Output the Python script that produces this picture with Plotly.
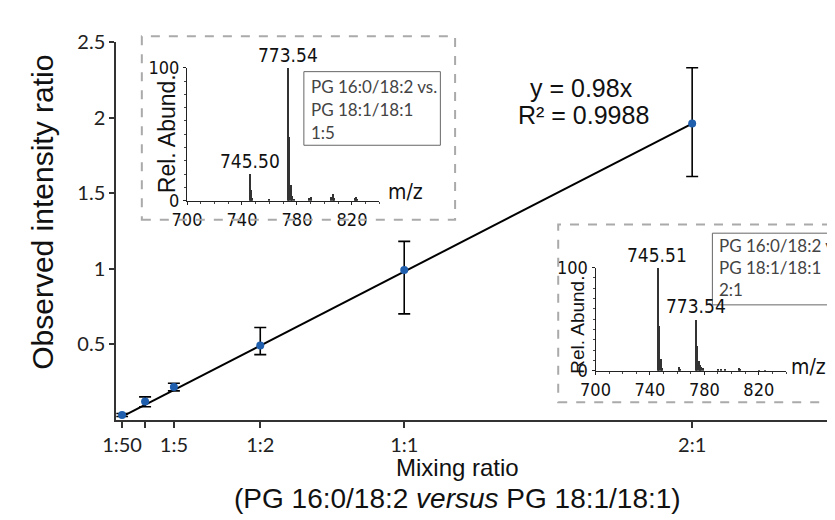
import plotly.graph_objects as go

W, H = 835, 520

# main data: mixing ratio vs observed intensity ratio
ratio_x = [0.02, 0.1, 0.2, 0.5, 1.0, 2.0]
ratio_labels = ["1:50", "", "1:5", "1:2", "1:1", "2:1"]
observed = [0.03, 0.12, 0.215, 0.49, 0.99, 1.96]
err_plus = [0.01, 0.03, 0.025, 0.12, 0.19, 0.37]
err_minus = [0.01, 0.035, 0.025, 0.06, 0.29, 0.35]
fit_x = [0.02, 2.0]
fit_y = [0.0196, 1.96]

# inset spectra (m/z, rel. abundance)
mz_15 = [745.5, 746.5, 747.5, 760.0, 773.54, 774.54, 775.54, 776.5, 777.5, 789.0, 790.0, 805.0, 806.0, 807.0, 822.0, 823.0, 824.0]
ab_15 = [20, 8, 2, 0.8, 100, 48, 12, 4, 1.5, 2, 3, 3, 5, 2, 2, 3, 1.5]
mz_21 = [745.51, 746.51, 747.5, 748.5, 761.0, 762.0, 773.54, 774.54, 775.5, 776.5, 777.5, 778.5, 790.0, 792.0, 795.0, 805.0, 806.0, 820.0, 824.0]
ab_21 = [100, 44, 12, 3, 4, 2, 50, 24, 10, 6, 4, 3, 2, 2, 2, 3, 2, 1.5, 1.5]
box_lines_15 = ["PG 16:0/18:2 vs.", "PG 18:1/18:1", "1:5"]
box_lines_21 = ["PG 16:0/18:2 vs.", "PG 18:1/18:1", "2:1"]


def px(x):
    return x / W


def py(y):
    return 1 - y / H


def note(text, x, y, font, **kw):
    # place a text at pixel position (x, y), centred unless told otherwise
    args = dict(xanchor='center', yanchor='middle')
    args.update(kw)
    fig.add_annotation(text=text, xref='paper', yref='paper', x=px(x), y=py(y),
                       showarrow=False, font=font, **args)


fig = go.Figure()

fig.add_trace(go.Scatter(x=fit_x, y=fit_y, mode='lines', line=dict(color='black', width=2),
                         showlegend=False, hoverinfo='skip'))
fig.add_trace(go.Scatter(
    x=ratio_x, y=observed, mode='markers',
    marker=dict(color='#1f5fae', size=8),
    error_y=dict(type='data', symmetric=False, array=err_plus, arrayminus=err_minus,
                 color='black', thickness=1.6, width=6),
    showlegend=False))

fig.add_trace(go.Bar(x=mz_15, y=ab_15, width=0.8, marker=dict(color='#333', line=dict(width=0)),
                     xaxis='x2', yaxis='y2', showlegend=False))
fig.add_trace(go.Bar(x=mz_21, y=ab_21, width=0.8, marker=dict(color='#333', line=dict(width=0)),
                     xaxis='x3', yaxis='y3', showlegend=False))

tick_font = dict(family='Lato', size=20, color='#222')
narrow = 'Liberation Sans Narrow, DejaVu Sans Condensed, Liberation Sans'
inset_font = dict(family=narrow, size=18, color='#111')
title_font = dict(family='Liberation Sans', size=27, color='#111')

inset_x = dict(range=[700, 840], tickvals=[700, 740, 780, 820], showline=True, linecolor='#222',
               linewidth=1, ticks='outside', ticklen=3, tickcolor='#222', tickfont=inset_font,
               minor=dict(dtick=10, ticks='outside', ticklen=2, tickcolor='#444'),
               showgrid=False, zeroline=False, fixedrange=True)
inset_y = dict(range=[0, 100], tickvals=[0, 100], showline=True, linecolor='#222', linewidth=1,
               ticks='outside', ticklen=3, tickcolor='#222', tickfont=inset_font,
               minor=dict(dtick=10, ticks='outside', ticklen=2, tickcolor='#444'),
               showgrid=False, zeroline=False, fixedrange=True)

fig.update_layout(
    width=W, height=H,
    margin=dict(l=0, r=0, t=0, b=0),
    paper_bgcolor='white', plot_bgcolor='rgba(0,0,0,0)',
    bargap=0,
    xaxis=dict(domain=[px(95), px(828)], range=[0, 2.5], tickvals=ratio_x, ticktext=ratio_labels,
               showline=True, linecolor='#333', linewidth=2, ticks='outside', ticklen=6,
               tickcolor='#333', tickwidth=1.5, tickfont=tick_font, showgrid=False, zeroline=False),
    yaxis=dict(domain=[py(417), py(22)], range=[0, 2.5], tickvals=[0.5, 1, 1.5, 2, 2.5],
               ticktext=['0.5', '1', '1.5', '2', '2.5'],
               showline=True, linecolor='#333', linewidth=2, ticks='outside', ticklen=5,
               tickcolor='#333', tickwidth=1.5, tickfont=tick_font, showgrid=False, zeroline=False),
    xaxis2=dict(inset_x, domain=[px(167), px(363)], anchor='y2'),
    yaxis2=dict(inset_y, domain=[py(188), py(49)], anchor='x2'),
    xaxis3=dict(inset_x, domain=[px(583), px(777)], anchor='y3'),
    yaxis3=dict(inset_y, domain=[py(366), py(258)], anchor='x3'),
)

# dashed inset frames and legend boxes
fig.add_shape(type='rect', xref='paper', yref='paper', x0=px(121), x1=px(440), y0=py(208), y1=py(16),
              line=dict(color='#aaa', width=2, dash='dash'))
fig.add_shape(type='rect', xref='paper', yref='paper', x0=px(545), x1=px(850), y0=py(399), y1=py(213),
              line=dict(color='#aaa', width=2, dash='dash'))
fig.add_shape(type='rect', xref='paper', yref='paper', x0=px(286), x1=px(425), y0=py(130), y1=py(53),
              line=dict(color='#666', width=1))
fig.add_shape(type='rect', xref='paper', yref='paper', x0=px(702), x1=px(850), y0=py(297), y1=py(222),
              line=dict(color='#666', width=1))

box_font = dict(family='Lato', size=17, color='#444')
for i, line in enumerate(box_lines_15):
    note(line, 291, 69 + 24 * i, box_font, xanchor='left')
for i, line in enumerate(box_lines_21):
    note(line, 707, 235 + 23 * i, box_font, xanchor='left')

label_font = dict(family=narrow, size=19, color='#111')
for txt, x, y, ax, ay in [("773.54", 773.54, 100, 'x2', 'y2'), ("745.50", 745.5, 20, 'x2', 'y2'),
                          ("745.51", 745.51, 100, 'x3', 'y3'), ("773.54", 773.54, 50, 'x3', 'y3')]:
    fig.add_annotation(text=txt, x=x, y=y, xref=ax, yref=ay, showarrow=False, xanchor='center',
                       yanchor='bottom', font=label_font)

note("Rel. Abund.", 146, 118, dict(family='Liberation Sans', size=23, color='#111'), textangle=-90)
note("Rel. Abund.", 565, 318, dict(family='Liberation Sans', size=19, color='#111'), textangle=-90)
mz_font = dict(family=narrow, size=21, color='#111')
note("m/z", 390, 179, mz_font)
note("m/z", 800, 362, mz_font)

eq_font = dict(family='Liberation Sans', size=25, color='#111')
note("y = 0.98x", 569, 70, eq_font)
note("R² = 0.9988", 571, 98, eq_font)

note("Observed intensity ratio", 19, 200, dict(title_font, size=30), textangle=-90)
note("Mixing ratio", 442, 467, dict(title_font, size=24))
note("(PG 16:0/18:2 <i>versus</i> PG 18:1/18:1)", 442, 500, dict(title_font, size=28))

fig.write_html("out.html")
